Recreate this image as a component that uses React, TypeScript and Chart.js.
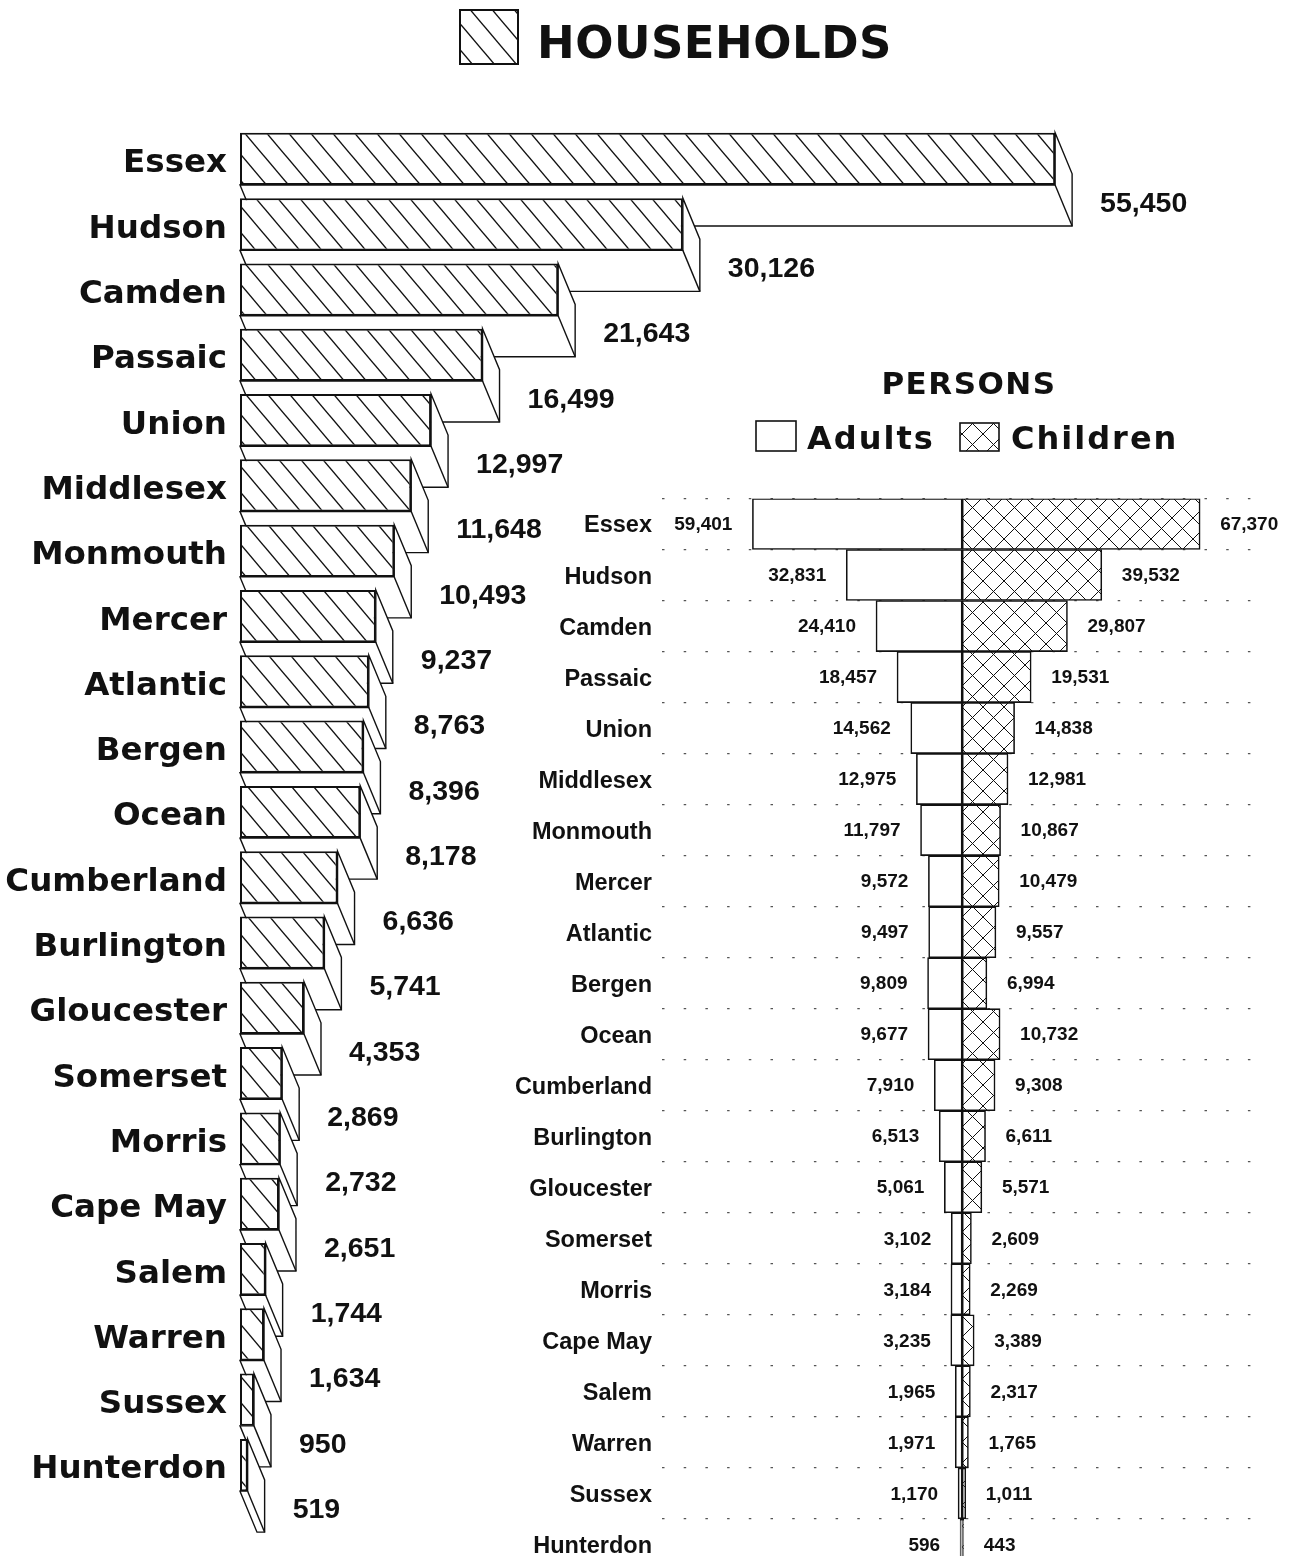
import React, { useEffect, useRef } from 'react';
import { Chart, registerables } from 'chart.js';
Chart.register(...registerables);

const counties = ['Essex', 'Hudson', 'Camden', 'Passaic', 'Union', 'Middlesex', 'Monmouth', 'Mercer', 'Atlantic', 'Bergen', 'Ocean', 'Cumberland', 'Burlington', 'Gloucester', 'Somerset', 'Morris', 'Cape May', 'Salem', 'Warren', 'Sussex', 'Hunterdon'];
const households = [55450, 30126, 21643, 16499, 12997, 11648, 10493, 9237, 8763, 8396, 8178, 6636, 5741, 4353, 2869, 2732, 2651, 1744, 1634, 950, 519];
const adults = [59401, 32831, 24410, 18457, 14562, 12975, 11797, 9572, 9497, 9809, 9677, 7910, 6513, 5061, 3102, 3184, 3235, 1965, 1971, 1170, 596];
const children = [67370, 39532, 29807, 19531, 14838, 12981, 10867, 10479, 9557, 6994, 10732, 9308, 6611, 5571, 2609, 2269, 3389, 2317, 1765, 1011, 443];

const INK = '#111';
const fmt = (v: number) => v.toLocaleString('en-US');

function makeHatch(): CanvasPattern {
  const W = 22, H = 26;
  const c = document.createElement('canvas');
  c.width = W; c.height = H;
  const g = c.getContext('2d')!;
  g.fillStyle = '#fff';
  g.fillRect(0, 0, W, H);
  g.strokeStyle = INK;
  g.lineWidth = 1.4;
  for (const off of [-W, 0, W]) {
    g.beginPath();
    g.moveTo(off - W, -H);
    g.lineTo(off + 2 * W, 2 * H);
    g.stroke();
  }
  return g.createPattern(c, 'repeat')!;
}

function makeCross(): CanvasPattern {
  const S = 21;
  const c = document.createElement('canvas');
  c.width = S; c.height = S;
  const g = c.getContext('2d')!;
  g.fillStyle = '#fff';
  g.fillRect(0, 0, S, S);
  g.strokeStyle = INK;
  g.lineWidth = 1;
  for (const off of [-S, 0, S]) {
    g.beginPath();
    g.moveTo(off - S, -S);
    g.lineTo(off + 2 * S, 2 * S);
    g.stroke();
    g.beginPath();
    g.moveTo(off + 2 * S, -S);
    g.lineTo(off - S, 2 * S);
    g.stroke();
  }
  return g.createPattern(c, 'repeat')!;
}

const DX = 17, DY = 41;

export default function App() {
  const leftRef = useRef<HTMLCanvasElement>(null);
  const rightRef = useRef<HTMLCanvasElement>(null);

  useEffect(() => {
    const hatch = makeHatch();
    const cross = makeCross();

    const hhPlugin = {
      id: 'hh3d',
      beforeDatasetsDraw(chart: any) {
        const ctx = chart.ctx;
        const meta = chart.getDatasetMeta(0);
        ctx.save();
        ctx.lineWidth = 1.4;
        ctx.strokeStyle = INK;
        ctx.fillStyle = '#fff';
        meta.data.forEach((el: any) => {
          const { x, y, base, height } = el.getProps(['x', 'y', 'base', 'height'], true);
          const top = y - height / 2, bot = y + height / 2;
          ctx.beginPath();
          ctx.moveTo(x, top);
          ctx.lineTo(x + DX, top + DY);
          ctx.lineTo(x + DX, bot + DY);
          ctx.lineTo(base + DX, bot + DY);
          ctx.lineTo(base, bot);
          ctx.lineTo(x, bot);
          ctx.closePath();
          ctx.fill();
          ctx.stroke();
          ctx.beginPath();
          ctx.moveTo(x, bot);
          ctx.lineTo(x + DX, bot + DY);
          ctx.stroke();
        });
        ctx.restore();
      },
      afterDatasetsDraw(chart: any) {
        const ctx = chart.ctx;
        const meta = chart.getDatasetMeta(0);
        ctx.save();
        ctx.fillStyle = INK;
        ctx.font = 'bold 28.5px "Liberation Sans", Arial, sans-serif';
        ctx.textAlign = 'left';
        ctx.textBaseline = 'middle';
        meta.data.forEach((el: any, i: number) => {
          ctx.fillText(fmt(households[i]), el.x + 45, el.y + 45);
        });
        ctx.restore();
      },
      afterDraw(chart: any) {
        const ctx = chart.ctx;
        ctx.save();
        ctx.fillStyle = hatch;
        ctx.fillRect(460, 10, 58, 54);
        ctx.lineWidth = 2;
        ctx.strokeStyle = INK;
        ctx.strokeRect(460, 10, 58, 54);
        ctx.fillStyle = INK;
        ctx.font = 'bold 45px "DejaVu Sans", sans-serif';
        ctx.textAlign = 'left';
        ctx.textBaseline = 'middle';
        try { (ctx as any).letterSpacing = '0.5px'; } catch (e) { }
        ctx.fillText('HOUSEHOLDS', 537, 46);
        ctx.restore();
      },
    };

    const left = new Chart(leftRef.current!, {
      type: 'bar',
      data: {
        labels: counties,
        datasets: [{
          label: 'HOUSEHOLDS',
          data: households,
          backgroundColor: hatch,
          borderColor: INK,
          borderWidth: 2,
          borderSkipped: false,
          barPercentage: 0.8,
          categoryPercentage: 1,
        }],
      },
      options: {
        indexAxis: 'y',
        responsive: false,
        animation: false,
        layout: { padding: { top: 126.3, bottom: 58.3, left: 0, right: 175 } },
        plugins: { legend: { display: false }, tooltip: { enabled: false } },
        scales: {
          x: { display: false, min: 0, max: 60000 },
          y: {
            grid: { display: false, drawTicks: false },
            border: { display: false },
            ticks: {
              color: INK,
              padding: 13,
              labelOffset: 5,
              font: { family: '"DejaVu Sans", sans-serif', weight: 'bold', size: 32.5 },
            },
            afterFit: (s: any) => { s.width = 240; },
          },
        },
      },
      plugins: [hhPlugin],
    } as any);

    const pPlugin = {
      id: 'persons',
      afterDatasetsDraw(chart: any) {
        const ctx = chart.ctx;
        ctx.save();
        ctx.fillStyle = INK;
        ctx.font = 'bold 19px "Liberation Sans", Arial, sans-serif';
        ctx.textBaseline = 'middle';
        chart.getDatasetMeta(0).data.forEach((el: any, i: number) => {
          ctx.textAlign = 'right';
          ctx.fillText(fmt(adults[i]), el.x - 20, el.y + 1);
        });
        chart.getDatasetMeta(1).data.forEach((el: any, i: number) => {
          ctx.textAlign = 'left';
          ctx.fillText(fmt(children[i]), el.x + 20, el.y + 1);
        });
        ctx.restore();
      },
      afterDraw(chart: any) {
        const ctx = chart.ctx;
        ctx.save();
        ctx.fillStyle = INK;
        ctx.textBaseline = 'middle';
        try { (ctx as any).letterSpacing = '1.5px'; } catch (e) { }
        ctx.font = 'bold 31px "DejaVu Sans", sans-serif';
        ctx.textAlign = 'center';
        ctx.fillText('PERSONS', 469, 36);
        try { (ctx as any).letterSpacing = '2px'; } catch (e) { }
        ctx.font = 'bold 32px "DejaVu Sans", sans-serif';
        ctx.textAlign = 'left';
        ctx.fillText('Adults', 307, 91);
        ctx.fillText('Children', 511, 91);
        ctx.lineWidth = 1.6;
        ctx.strokeStyle = INK;
        ctx.fillStyle = '#fff';
        ctx.fillRect(256, 71, 40, 30);
        ctx.strokeRect(256, 71, 40, 30);
        ctx.fillStyle = cross;
        ctx.fillRect(460, 73, 39, 28);
        ctx.strokeRect(460, 73, 39, 28);
        ctx.restore();
      },
    };

    const right = new Chart(rightRef.current!, {
      type: 'bar',
      data: {
        labels: counties,
        datasets: [
          {
            label: 'Adults',
            data: adults.map((v) => -v),
            backgroundColor: '#fff',
            borderColor: INK,
            borderWidth: 1.6,
            borderSkipped: false,
            barPercentage: 1,
            categoryPercentage: 1,
          },
          {
            label: 'Children',
            data: children,
            backgroundColor: cross,
            borderColor: INK,
            borderWidth: 1.6,
            borderSkipped: false,
            barPercentage: 1,
            categoryPercentage: 1,
          },
        ],
      },
      options: {
        indexAxis: 'y',
        responsive: false,
        animation: false,
        layout: { padding: { top: 148.5, bottom: 11.5, left: 0, right: 34.6 } },
        plugins: { legend: { display: false }, tooltip: { enabled: false } },
        scales: {
          x: { display: false, stacked: true, min: -85000, max: 85000 },
          y: {
            stacked: true,
            grid: { display: true, drawTicks: false, color: '#555', lineWidth: 1.3, offset: true },
            border: { display: false, dash: [2.5, 19.2] },
            ticks: {
              color: INK,
              padding: 10,
              labelOffset: 2,
              font: { family: '"Liberation Sans", Arial, sans-serif', weight: 'bold', size: 23.5 },
            },
            afterFit: (s: any) => { s.width = 162; },
          },
        },
      },
      plugins: [pPlugin],
    } as any);

    return () => {
      left.destroy();
      right.destroy();
    };
  }, []);

  return (
    <div style={{ position: 'absolute', left: 0, top: 0, width: 1297, height: 1556, overflow: 'hidden', background: '#fff' }}>
      <canvas ref={leftRef} width={1297} height={1556} style={{ position: 'absolute', left: 0, top: 0 }} />
      <canvas ref={rightRef} width={797} height={1244} style={{ position: 'absolute', left: 500, top: 350 }} />
    </div>
  );
}
